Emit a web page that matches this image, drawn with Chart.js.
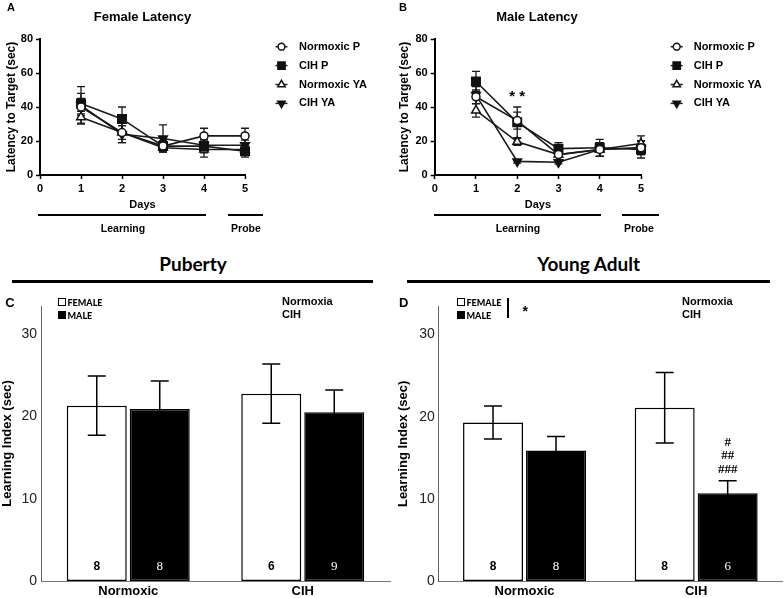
<!DOCTYPE html>
<html><head><meta charset="utf-8">
<script src="https://cdn.jsdelivr.net/npm/chart.js@4.4.1/dist/chart.umd.min.js"></script>
<style>
html,body{margin:0;padding:0;background:#fff;}
#wrap{position:relative;width:784px;height:598px;overflow:hidden;background:#fff;}
canvas{position:absolute;}
.t{position:absolute;transform:translate(-50%,-50%);white-space:nowrap;line-height:1;color:#000;font-family:"Liberation Sans",Arial,sans-serif;font-weight:bold;}
.l{position:absolute;transform:translateY(-50%);white-space:nowrap;line-height:1;color:#000;font-family:"Liberation Sans",Arial,sans-serif;font-weight:bold;}
.hr{position:absolute;background:#000;}
.h{font-family:Lato,"Noto Sans",sans-serif;font-size:19px;font-weight:bold;}
.lg{font-family:Lato,"Noto Sans",sans-serif;font-size:9px;font-weight:900;}
.box{position:absolute;width:8px;height:8px;box-sizing:border-box;border:1px solid #000;}
</style></head>
<body><div id="wrap">
<canvas id="cA" width="392" height="230" style="left:0;top:0"></canvas>
<canvas id="cB" width="392" height="230" style="left:392px;top:0"></canvas>
<canvas id="cC" width="392" height="313" style="left:0;top:285px"></canvas>
<canvas id="cD" width="392" height="313" style="left:392px;top:285px"></canvas>

<div class="t" style="left:11px;top:7px;font-size:11px">A</div>
<div class="t" style="left:403px;top:7px;font-size:11px">B</div>
<div class="t" style="left:142.5px;top:16px;font-size:13px">Female Latency</div>
<div class="t" style="left:537px;top:16px;font-size:13px">Male Latency</div>

<div class="hr" style="left:38px;top:214px;width:168px;height:2px"></div>
<div class="hr" style="left:228px;top:214px;width:35px;height:2px"></div>
<div class="hr" style="left:434px;top:214px;width:167px;height:2px"></div>
<div class="hr" style="left:622px;top:214px;width:37px;height:2px"></div>
<div class="t" style="left:123px;top:228px;font-size:10.5px">Learning</div>
<div class="t" style="left:246px;top:228px;font-size:10.5px">Probe</div>
<div class="t" style="left:518px;top:228px;font-size:10.5px">Learning</div>
<div class="t" style="left:639px;top:228px;font-size:10.5px">Probe</div>

<div class="t h" style="left:193px;top:263px">Puberty</div>
<div class="t h" style="left:588.7px;top:263px">Young Adult</div>
<div class="hr" style="left:12px;top:279.5px;width:361px;height:3px"></div>
<div class="hr" style="left:407px;top:279.5px;width:363px;height:3px"></div>

<div class="t" style="left:10px;top:302px;font-size:13px">C</div>
<div class="t" style="left:403.7px;top:302px;font-size:13px">D</div>

<div class="box" style="left:58px;top:298px;background:#fff"></div>
<div class="box" style="left:58px;top:311px;background:#000"></div>
<div class="l lg" style="left:67.5px;top:302px">FEMALE</div>
<div class="l lg" style="left:67.5px;top:315px">MALE</div>
<div class="l" style="left:282px;top:301px;font-size:11px">Normoxia</div>
<div class="l" style="left:282px;top:314px;font-size:11px">CIH</div>

<div class="box" style="left:457px;top:298px;background:#fff"></div>
<div class="box" style="left:457px;top:311px;background:#000"></div>
<div class="l lg" style="left:466.5px;top:302px">FEMALE</div>
<div class="l lg" style="left:466.5px;top:315px">MALE</div>
<div class="hr" style="left:507px;top:298px;width:2px;height:20px"></div>
<div class="t" style="left:525.3px;top:311px;font-size:14px">*</div>
<div class="l" style="left:682px;top:301px;font-size:11px">Normoxia</div>
<div class="l" style="left:682px;top:314px;font-size:11px">CIH</div>
</div>

<script>
// ---------- data ----------
const days = [1, 2, 3, 4, 5];
const seriesLabels = ['Normoxic P', 'CIH P', 'Normoxic YA', 'CIH YA'];
const latencyTicks = [0, 20, 40, 60, 80];

const femaleNormoxicP    = [40, 25, 17, 23, 23];
const femaleNormoxicPErr = [5, 4, 3, 4.5, 4.5];
const femaleCihP         = [42, 33, 17, 17, 14];
const femaleCihPErr      = [6, 7, 3, 4, 3.5];
const femaleNormoxicYA   = [34, 25, 16, 15, 15];
const femaleNormoxicYAErr= [3.5, 6, 2.5, 4.5, 3];
const femaleCihYA        = [41, 24, 21.5, 17.5, 17.5];
const femaleCihYAErr     = [11, 5, 8, 3, 3];

const maleNormoxicP      = [46, 32, 12, 15, 16];
const maleNormoxicPErr   = [4, 5, 3, 4, 4];
const maleCihP           = [55, 31, 15.5, 16, 15];
const maleCihPErr        = [6, 9, 3.5, 5, 5];
const maleNormoxicYA     = [38, 19.5, 12, 15, 18.5];
const maleNormoxicYAErr  = [4, 2, 3, 4, 4.5];
const maleCihYA          = [47, 8, 7.5, 15, 16];
const maleCihYAErr       = [5, 1, 1, 4, 4];

const groupCategories = ['Normoxic', 'CIH'];
const pubertyFemale     = [21.3, 22.75];
const pubertyFemaleErr  = [3.6, 3.6];
const pubertyFemaleN    = ['8', '6'];
const pubertyMale       = [20.9, 20.5];
const pubertyMaleErr    = [3.4, 2.7];
const pubertyMaleN      = ['8', '9'];
const youngFemale       = [19.3, 21.1];
const youngFemaleErr    = [2.0, 4.3];
const youngFemaleN      = ['8', '8'];
const youngMale         = [15.9, 10.7];
const youngMaleErr      = [1.7, 1.5];
const youngMaleN        = ['8', '6'];

// ---------- setup ----------
const FONT = '"Liberation Sans", Arial, sans-serif';
Chart.defaults.font.family = FONT;
Chart.defaults.color = '#000';

function drawErrors(chart, o) {
  const ctx = chart.ctx, ys = chart.scales.y;
  chart.data.datasets.forEach((ds, i) => {
    if (!ds.errors) return;
    const meta = chart.getDatasetMeta(i);
    meta.data.forEach((el, j) => {
      const v = ds.data[j];
      const val = (typeof v === 'object') ? v.y : v;
      const e = ds.errors[j];
      const top = ys.getPixelForValue(val + e), bot = ys.getPixelForValue(val - e);
      ctx.save();
      ctx.strokeStyle = o.color; ctx.lineWidth = o.width;
      ctx.beginPath();
      ctx.moveTo(el.x, top); ctx.lineTo(el.x, bot);
      ctx.moveTo(el.x - o.cap / 2, top); ctx.lineTo(el.x + o.cap / 2, top);
      if (o.lowerCap) { ctx.moveTo(el.x - o.cap / 2, bot); ctx.lineTo(el.x + o.cap / 2, bot); }
      ctx.stroke();
      ctx.restore();
    });
  });
}
const errorBars = {
  id: 'errorBars',
  beforeDatasetsDraw(chart, a, o) { if (o.layer === 'under') drawErrors(chart, o); },
  afterDatasetsDraw(chart, a, o) { if (o.layer !== 'under') drawErrors(chart, o); }
};

const lineLegend = {
  id: 'lineLegend',
  afterDraw(chart, a, o) {
    const ctx = chart.ctx;
    chart.data.datasets.forEach((ds, i) => {
      const y = o.y0 + i * o.dy;
      ctx.save();
      ctx.strokeStyle = '#222'; ctx.lineWidth = 1.5;
      ctx.beginPath(); ctx.moveTo(o.x0 - 6, y); ctx.lineTo(o.x0 + 6, y); ctx.stroke();
      ctx.fillStyle = ds.pointBackgroundColor; ctx.strokeStyle = ds.pointBorderColor;
      ctx.lineWidth = ds.pointBorderWidth;
      Chart.helpers.drawPoint(ctx, {pointStyle: ds.pointStyle, rotation: ds.pointRotation || 0,
        radius: ds.pointRadius * 0.85, borderWidth: ds.pointBorderWidth}, o.x0, y);
      ctx.fillStyle = '#000'; ctx.font = 'bold 11px ' + FONT;
      ctx.textBaseline = 'middle'; ctx.textAlign = 'left';
      ctx.fillText(ds.label, o.xText, y);
      ctx.restore();
    });
  }
};

const textMarks = {
  id: 'textMarks',
  afterDraw(chart, a, o) {
    if (!o.marks) return;
    const ctx = chart.ctx;
    o.marks.forEach(m => {
      ctx.save();
      ctx.fillStyle = '#000'; ctx.font = m.font;
      ctx.textAlign = 'center'; ctx.textBaseline = 'middle';
      let x, y;
      if (m.datasetIndex !== undefined) {
        const el = chart.getDatasetMeta(m.datasetIndex).data[m.index];
        const ds = chart.data.datasets[m.datasetIndex];
        x = el.x;
        y = chart.scales.y.getPixelForValue(ds.data[m.index] + ds.errors[m.index]) - m.dy;
      } else {
        x = chart.scales.x.getPixelForValue(m.x);
        y = chart.scales.y.getPixelForValue(m.y);
      }
      ctx.fillText(m.text, x, y);
      ctx.restore();
    });
  }
};

const nLabels = {
  id: 'nLabels',
  afterDatasetsDraw(chart, a, o) {
    const ctx = chart.ctx;
    chart.data.datasets.forEach((ds, i) => {
      if (!ds.nLabels) return;
      chart.getDatasetMeta(i).data.forEach((el, j) => {
        ctx.save();
        ctx.fillStyle = ds.nColor; ctx.font = ds.nFont;
        ctx.textAlign = 'center'; ctx.textBaseline = 'middle';
        ctx.fillText(ds.nLabels[j], el.x, chart.scales.y.bottom - o.offset);
        ctx.restore();
      });
    });
  }
};

function pts(vals) { return days.map((d, i) => ({x: d, y: vals[i]})); }

function lineDatasets(np, npE, cp, cpE, nya, nyaE, cya, cyaE) {
  const base = {borderColor: '#1a1a1a', borderWidth: 1.6, pointBorderColor: '#111',
                pointBorderWidth: 1.5, clip: false, tension: 0};
  return [
    Object.assign({}, base, {label: seriesLabels[0], data: pts(np), errors: npE,
      pointStyle: 'circle', pointRadius: 4, pointBackgroundColor: '#fff'}),
    Object.assign({}, base, {label: seriesLabels[1], data: pts(cp), errors: cpE,
      pointStyle: 'rect', pointRadius: 6, pointBackgroundColor: '#111'}),
    Object.assign({}, base, {label: seriesLabels[2], data: pts(nya), errors: nyaE,
      pointStyle: 'triangle', pointRadius: 5, pointBackgroundColor: '#fff'}),
    Object.assign({}, base, {label: seriesLabels[3], data: pts(cya), errors: cyaE,
      pointStyle: 'triangle', pointRotation: 180, pointRadius: 5, pointBackgroundColor: '#111'})
  ];
}

function lineConfig(datasets, o) {
  return {
    type: 'line',
    data: {datasets},
    plugins: [errorBars, lineLegend, textMarks],
    options: {
      responsive: false, animation: false, events: [],
      layout: {padding: {left: 0, top: 39, right: o.right, bottom: 18.4}},
      plugins: {
        legend: {display: false}, tooltip: {enabled: false},
        errorBars: {layer: 'under', color: '#1a1a1a', width: 1.3, cap: 8, lowerCap: true},
        lineLegend: {x0: o.legX, xText: o.legText, y0: 46.7, dy: 18.9},
        textMarks: {marks: o.marks || []}
      },
      scales: {
        x: {
          type: 'linear', min: 0, max: 5,
          grid: {display: true, drawOnChartArea: false, drawTicks: true, tickLength: 4, tickColor: '#000', tickWidth: 1.5},
          border: {color: '#000', width: 2},
          ticks: {stepSize: 1, padding: 3, color: '#000', font: {size: 11, weight: 'bold'}},
          title: {display: true, text: 'Days', color: '#000', font: {size: 11, weight: 'bold'}, padding: 0},
          afterFit(s) { s.height = 36.6; }
        },
        y: {
          min: 0, max: 80,
          grid: {display: true, drawOnChartArea: false, drawTicks: true, tickLength: 4, tickColor: '#000', tickWidth: 1.5},
          border: {color: '#000', width: 2},
          afterBuildTicks(s) { s.ticks = latencyTicks.map(v => ({value: v})); },
          ticks: {padding: 3, color: '#000', font: {size: 11, weight: 'bold'}},
          title: {display: true, text: 'Latency to Target (sec)', color: '#000',
                  font: {size: 12, weight: 'bold'}, padding: {top: o.tpad, bottom: 0}},
          afterFit(s) { s.width = o.yw; }
        }
      }
    }
  };
}

new Chart(document.getElementById('cA'), lineConfig(
  lineDatasets(femaleNormoxicP, femaleNormoxicPErr, femaleCihP, femaleCihPErr,
               femaleNormoxicYA, femaleNormoxicYAErr, femaleCihYA, femaleCihYAErr),
  {right: 147, yw: 40, tpad: 4.5, legX: 281.5, legText: 299}));

new Chart(document.getElementById('cB'), lineConfig(
  lineDatasets(maleNormoxicP, maleNormoxicPErr, maleCihP, maleCihPErr,
               maleNormoxicYA, maleNormoxicYAErr, maleCihYA, maleCihYAErr),
  {right: 143, yw: 42.7, tpad: 5.3, legX: 284.7, legText: 301.7,
   marks: [{x: 2, y: 46, text: '* *', font: 'bold 15px ' + FONT}]}));

function barConfig(fem, femE, femN, mal, malE, malN, o) {
  const common = {borderColor: '#000', borderWidth: 1.5, borderSkipped: false,
                  categoryPercentage: o.cp, barPercentage: 0.952};
  return {
    type: 'bar',
    data: {
      labels: groupCategories,
      datasets: [
        Object.assign({}, common, {label: 'FEMALE', data: fem, errors: femE, nLabels: femN,
          backgroundColor: '#fff', nColor: '#000', nFont: 'bold 12px ' + FONT}),
        Object.assign({}, common, {label: 'MALE', data: mal, errors: malE, nLabels: malN,
          backgroundColor: '#000', nColor: '#fff', nFont: '13px "Liberation Serif", "Times New Roman", serif'})
      ]
    },
    plugins: [errorBars, nLabels, textMarks],
    options: {
      responsive: false, animation: false, events: [],
      layout: {padding: {left: 0, top: o.top, right: 2, bottom: 0}},
      plugins: {
        legend: {display: false}, tooltip: {enabled: false},
        errorBars: {layer: 'over', color: '#000', width: 1.5, cap: 18, lowerCap: true},
        textMarks: {marks: o.marks || []}
      },
      scales: {
        x: {
          grid: {display: false, drawTicks: false},
          border: {color: '#777', width: 1},
          ticks: {padding: 3, color: '#000', font: {size: 13, weight: 'bold'}},
          afterFit(s) { s.height = 17; }
        },
        y: {
          min: 0, max: 33.4,
          grid: {display: false, drawTicks: false},
          border: {color: '#666', width: 1},
          afterBuildTicks(s) { s.ticks = [0, 10, 20, 30].map(v => ({value: v})); },
          ticks: {padding: 4, color: '#222', font: {size: 14}},
          title: {display: true, text: 'Learning Index (sec)', color: '#000',
                  font: {size: 13, weight: 'bold'}, padding: {top: o.tpad, bottom: 0}},
          afterFit(s) { s.width = o.yw; }
        }
      }
    }
  };
}

const nOpts = {offset: 14};
const cC = barConfig(pubertyFemale, pubertyFemaleErr, pubertyFemaleN,
                     pubertyMale, pubertyMaleErr, pubertyMaleN,
                     {top: 21, yw: 41, tpad: 0, cp: 0.722});
cC.options.plugins.nLabels = nOpts;
new Chart(document.getElementById('cC'), cC);

const cD = barConfig(youngFemale, youngFemaleErr, youngFemaleN,
                     youngMale, youngMaleErr, youngMaleN,
                     {top: 21.7, yw: 46.7, tpad: 4, cp: 0.734,
                      marks: [
                        {datasetIndex: 1, index: 1, text: '###', dy: 10.7, font: 'bold 13px "Liberation Serif", serif'},
                        {datasetIndex: 1, index: 1, text: '##', dy: 25, font: 'bold 13px "Liberation Serif", serif'},
                        {datasetIndex: 1, index: 1, text: '#', dy: 38, font: 'bold 13px "Liberation Serif", serif'}
                      ]});
cD.options.plugins.nLabels = nOpts;
new Chart(document.getElementById('cD'), cD);
</script>
</body></html>
